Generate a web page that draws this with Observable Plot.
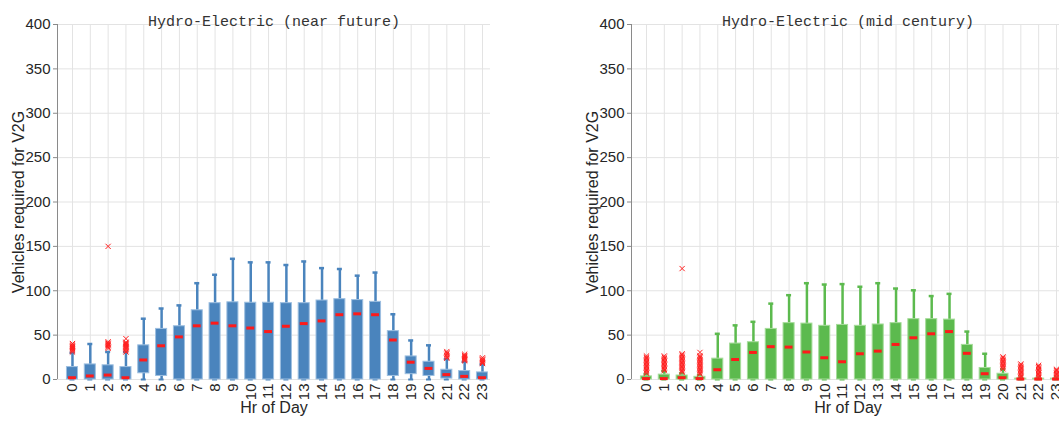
<!DOCTYPE html>
<html>
<head>
<meta charset="utf-8">
<script src="https://cdn.jsdelivr.net/npm/d3@7"></script>
<script src="https://cdn.jsdelivr.net/npm/@observablehq/plot@0.6"></script>
<style>
  html, body { margin: 0; padding: 0; background: #fff; overflow: hidden; width: 1059px; height: 425px; }
  #left, #right { position: absolute; top: 0; }
  #left { left: 0; width: 530px; }
  #right { left: 530px; width: 540px; }
  svg { max-width: none !important; }
</style>
</head>
<body>
<div id="left"></div>
<div id="right"></div>
<script>
// ---------- data ----------
const hours = [0,1,2,3,4,5,6,7,8,9,10,11,12,13,14,15,16,17,18,19,20,21,22,23];
const yTicks = [0,50,100,150,200,250,300,350,400];

// Near future (blue)
const nearQ1  = [0,0,0,0,7,4,0,0,0,0,0,0,0,0,0,0,0,0,4,6,4,1,0,0];
const nearQ3  = [14,17,16,14,38.5,57,60,78,86,87,86.5,86.5,86,86,89,90.5,89.5,87.5,54.5,26,20,11,9.5,8];
const nearMed = [2,4,5,2,22,38,48,60.5,63.5,60.5,58,54,60,63,66,73,74,73,44.5,19.5,12.5,5.5,3.5,2];
const nearHi  = [30,40,31,31,68.5,80,83.5,108.5,118,136,132,132,129,133,125.5,124.5,117,120.5,73.5,44,38.5,23,20,17];
const nearLo  = [0,0,0,0,0,0,0,0,0,0,0,0,0,0,0,0,0,0,0,0,0,0,0,0];
const nearOutliers = [
  [0, [31,32.5,34,35,36,37,38,39,40.5]],
  [2, [35,36.5,38,39,40,41,42.5,150]],
  [3, [31,32.5,34,35,36,37,38,39,40,41,42,46]],
  [21, [24,25.5,27,28.5,30,31.5]],
  [22, [21,22,23,24,25,26,27,28.5]],
  [23, [18,19,20,21,22,23,24.5]]
];

// Mid century (green)
const midQ1  = [0,0,0,0,0,0,0,0,0,0,0,0,0,0,0,0,0,0,0,0,0,0,0,0];
const midQ3  = [3.5,5.5,4.5,3,23.5,40.5,42,57,63.5,63,60.5,61.5,60.5,62,63.5,68,68,67.5,39,13,6.5,1,1,1];
const midMed = [1,1,2,1,11,22.5,30.5,37,36.5,31,24.5,20,29,32,39.5,47,51.5,54,29.5,6.5,2,0.5,0.5,0.5];
const midHi  = [6,9.5,7,5,51.5,61,65,85.5,95,108.5,107,107.5,104.5,108.5,102.5,100.5,94,96.5,54,29,11.5,2,2,2];
const midLo  = [0,0,0,0,0,0,0,0,0,0,0,0,0,0,0,0,0,0,0,0,0,0,0,0];
const midOutliers = [
  [0, [7,8.5,10,11.5,13,14.5,16,17.5,19,20.5,22,23.5,25,26.5]],
  [1, [10,11.5,13,14.5,16,17.5,19,20.5,22,23.5,25,26.5]],
  [2, [8,9.5,11,12.5,14,15.5,17,18.5,20,21.5,23,24.5,26,27.5,29,125]],
  [3, [6,7.5,9,10.5,12,13.5,15,16.5,18,19.5,21,22.5,24,25.5,27,30.5]],
  [20, [12,13.5,15,16.5,18,19.5,21,22.5,24,25.5]],
  [21, [2.5,4,5.5,7,8.5,10,11.5,13,14.5,16,17.5]],
  [22, [2.5,4,5.5,7,8.5,10,11.5,13,14.5,16]],
  [23, [2.5,4,5.5,7,8.5,10,11.5]]
];

const titles = ["Hydro-Electric (near future)", "Hydro-Electric (mid century)"];
const yLabel = "Vehicles required for V2G";
const xLabel = "Hr of Day";

// ---------- chart ----------
const sans = "'Liberation Sans', Arial, sans-serif";
const mono = "'Liberation Mono', 'Courier New', monospace";
const xDomain = [-0.84, 23.45];

function boxChart({q1, q3, med, hi, lo, outliers, title, fill, edge, width, marginLeft, marginRight}) {
  const rows = hours.map((h, i) => ({h, q1: q1[i], q3: q3[i], med: med[i], hi: hi[i], lo: lo[i]}));
  const outs = outliers.flatMap(([h, vs]) => vs.map(v => ({h, v})));
  return Plot.plot({
    width, height: 425,
    marginLeft, marginRight, marginTop: 24, marginBottom: 46,
    style: {fontFamily: sans, fontSize: "15px", color: "#262626", background: "#fff", overflow: "visible", maxWidth: "none"},
    x: {type: "linear", domain: xDomain},
    y: {domain: [0, 400]},
    marks: [
      Plot.gridX(hours, {stroke: "#e3e3e3", strokeOpacity: 1}),
      Plot.gridY(yTicks, {stroke: "#e3e3e3", strokeOpacity: 1}),
      Plot.ruleX([xDomain[0]], {y1: 0, y2: 400, stroke: "#8a8a8a", strokeWidth: 1}),
      Plot.axisY({ticks: yTicks, tickSize: 4, tickPadding: 3, label: null, stroke: "#8a8a8a", fill: "#262626", fontSize: 15}),
      Plot.axisX({ticks: hours, tickSize: 0, tickPadding: 4, tickRotate: -90, label: null, fill: "#262626", fontSize: 15, tickFormat: d => String(d)}),
      // whiskers
      Plot.ruleX(rows, {x: "h", y1: "lo", y2: "hi", stroke: fill, strokeWidth: 2.5}),
      Plot.ruleY(rows, {y: "hi", x1: d => d.h - 0.14, x2: d => d.h + 0.14, stroke: fill, strokeWidth: 2.5}),
      Plot.ruleY(rows, {y: "lo", x1: d => d.h - 0.14, x2: d => d.h + 0.14, stroke: fill, strokeWidth: 2}),
      // boxes
      Plot.rect(rows, {x1: d => d.h - 0.31, x2: d => d.h + 0.31, y1: "q1", y2: "q3", fill, stroke: edge, strokeWidth: 1}),
      // medians
      Plot.ruleY(rows, {y: "med", x1: d => d.h - 0.22, x2: d => d.h + 0.22, stroke: "#ff1a1a", strokeWidth: 3}),
      // outliers
      Plot.dot(outs, {x: "h", y: "v", symbol: "times", r: 2.5, stroke: "#ff2020", strokeWidth: 1}),
      // texts
      Plot.text([title], {frameAnchor: "top", dy: -9, fontFamily: mono, fontSize: 15, fill: "#333"}),
      Plot.text([yLabel], {frameAnchor: "left", textAnchor: "middle", dx: -39, rotate: -90, fontSize: 16, fill: "#262626"}),
      Plot.text([xLabel], {frameAnchor: "bottom", dy: 33, fontSize: 16, fill: "#262626"})
    ]
  });
}

document.getElementById("left").append(boxChart({
  q1: nearQ1, q3: nearQ3, med: nearMed, hi: nearHi, lo: nearLo, outliers: nearOutliers,
  title: titles[0], fill: "#4a84bd", edge: "#9dbfe0", width: 530, marginLeft: 57, marginRight: 40
}));
document.getElementById("right").append(boxChart({
  q1: midQ1, q3: midQ3, med: midMed, hi: midHi, lo: midLo, outliers: midOutliers,
  title: titles[1], fill: "#5cba4e", edge: "#a6dc9a", width: 540, marginLeft: 101, marginRight: 6
}));
</script>
</body>
</html>
